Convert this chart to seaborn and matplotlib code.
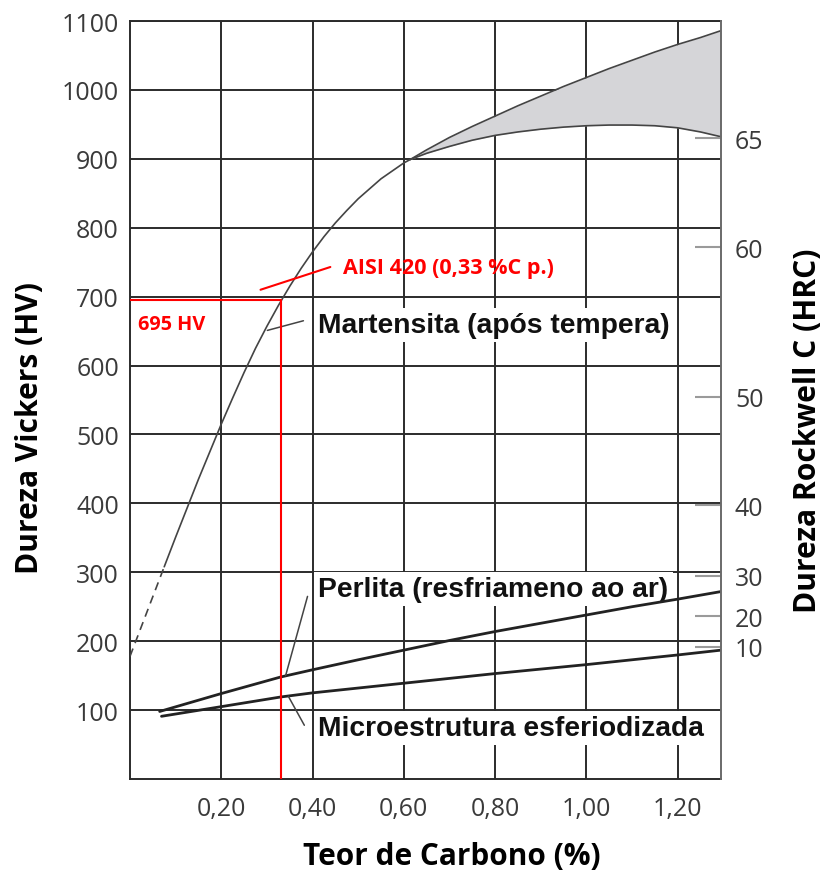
import matplotlib
matplotlib.use("Agg")
import matplotlib.pyplot as plt
import seaborn as sns
import pandas as pd

# ---------------- data ----------------
mart_dash_c = [0.0, 0.075]
mart_dash_hv = [178, 308]

mart_c = [0.075, 0.10, 0.125, 0.15, 0.175, 0.20, 0.225, 0.25, 0.275, 0.30, 0.325, 0.35,
          0.375, 0.40, 0.425, 0.45, 0.475, 0.50, 0.55, 0.60, 0.614]
mart_hv = [308, 351, 393, 435, 475, 515, 553, 590, 625, 657, 687, 715,
           741, 765, 787, 807, 825, 842, 871, 894, 899]

band_c = [0.614, 0.65, 0.70, 0.75, 0.80, 0.85, 0.90, 0.95, 1.00, 1.05, 1.10, 1.15, 1.20, 1.25, 1.295]
band_upper_hv = [899, 913, 931, 947, 962, 977, 991, 1005, 1018, 1031, 1043, 1055, 1066, 1076, 1086]
band_lower_hv = [899, 908, 918, 927, 934, 939, 943, 946, 948, 949, 949, 948, 945, 939, 932]

perl_c = [0.065, 0.20, 0.33, 0.40, 0.50, 0.60, 0.70, 0.80, 0.90, 1.00, 1.10, 1.20, 1.295]
perl_hv = [98, 124, 148, 158.5, 173, 187, 201, 214, 226, 238, 250, 261, 272]

sph_c = [0.069, 0.20, 0.33, 0.40, 0.60, 0.80, 1.00, 1.20, 1.295]
sph_hv = [91, 105, 119, 125, 139, 153, 166, 180, 187]

x_ticks = [0.2, 0.4, 0.6, 0.8, 1.0, 1.2]
x_tick_labels = ["0,20", "0,40", "0,60", "0,80", "1,00", "1,20"]
y_ticks = [100, 200, 300, 400, 500, 600, 700, 800, 900, 1000, 1100]

hrc_labels = ["65", "60", "50", "40", "30", "20", "10"]
hrc_at_hv = [930, 772, 555, 397, 295, 236, 192]

aisi_c = 0.33
aisi_hv = 695

# leader lines (annotation)
lead_mart_c, lead_mart_hv = [0.301, 0.380], [651, 665]
lead_aisi_c, lead_aisi_hv = [0.286, 0.439], [710, 743]
lead_perl_c, lead_perl_hv = [0.341, 0.389], [150, 265]
lead_sph_c, lead_sph_hv = [0.347, 0.382], [120, 78]

# ---------------- style ----------------
sns.set_theme(style="white")
plt.rcParams["font.family"] = ["Open Sans", "DejaVu Sans"]

fig = plt.figure(figsize=(8.22, 8.78), dpi=100)
ax = fig.add_axes([130 / 822, (878 - 780) / 878, (721 - 130) / 822, (780 - 22) / 878])

ink = "#2b2b2b"

df_m = pd.DataFrame({"c": mart_c, "hv": mart_hv})
df_md = pd.DataFrame({"c": mart_dash_c, "hv": mart_dash_hv})
df_up = pd.DataFrame({"c": band_c, "hv": band_upper_hv})
df_lo = pd.DataFrame({"c": band_c, "hv": band_lower_hv})
df_p = pd.DataFrame({"c": perl_c, "hv": perl_hv})
df_s = pd.DataFrame({"c": sph_c, "hv": sph_hv})

ax.fill_between(band_c, band_lower_hv, band_upper_hv, color="#d5d5d8", zorder=1.5, lw=0)
sns.lineplot(data=df_md, x="c", y="hv", ax=ax, color="#444444", lw=1.2,
             linestyle=(0, (5, 3.5)), sort=False, estimator=None, zorder=4)
for d in (df_m, df_up, df_lo):
    sns.lineplot(data=d, x="c", y="hv", ax=ax, color="#444444", lw=1.2, sort=False, estimator=None, zorder=4)
for d in (df_p, df_s):
    sns.lineplot(data=d, x="c", y="hv", ax=ax, color="#222222", lw=2.0, sort=False, estimator=None, zorder=4)

for lc, lh in [(lead_mart_c, lead_mart_hv), (lead_perl_c, lead_perl_hv), (lead_sph_c, lead_sph_hv)]:
    ax.plot(lc, lh, color="#444444", lw=1.1, zorder=4)

# red AISI 420 markers
red = "#ff0000"
ax.plot([0, aisi_c], [aisi_hv, aisi_hv], color=red, lw=1.5, zorder=5)
ax.plot([aisi_c, aisi_c], [0, aisi_hv], color=red, lw=1.5, zorder=5)
ax.plot(lead_aisi_c, lead_aisi_hv, color=red, lw=1.5, zorder=5)
ax.text(0.017, 660, "695 HV", color=red, fontsize=14.3, fontweight="bold", va="center", ha="left", zorder=6)
ax.text(0.466, 743, "AISI 420 (0,33 %C p.)", color=red, fontsize=15.5, fontweight="bold",
        va="center", ha="left", zorder=6)

lab_kw = dict(fontsize=20.3, fontweight="bold", family=["Liberation Sans", "DejaVu Sans"], color="#111111",
              va="center", ha="left", zorder=3.5,
              bbox=dict(facecolor="white", edgecolor="none", pad=3))
ax.text(0.413, 659, "Martensita (após tempera)", **lab_kw)
ax.text(0.413, 276, "Perlita (resfriameno ao ar)", **lab_kw)
ax.text(0.413, 74, "Microestrutura esferiodizada", **lab_kw)

ax.set_xlim(0, 1.295)
ax.set_ylim(0, 1100)
ax.set_xticks(x_ticks)
ax.set_xticklabels(x_tick_labels)
ax.set_yticks(y_ticks)
ax.set_yticklabels([str(v) for v in y_ticks])
ax.grid(True, color=ink, lw=1.4)
ax.set_axisbelow(True)
ax.tick_params(axis="both", length=0, labelsize=18, labelcolor="#3a3a3a")
ax.tick_params(axis="y", pad=8)
ax.tick_params(axis="x", pad=12)
for s in ["left", "bottom", "top"]:
    ax.spines[s].set_visible(True)
    ax.spines[s].set_color(ink)
    ax.spines[s].set_linewidth(1.4)
ax.spines["right"].set_visible(False)
ax.set_xlabel("")
ax.set_ylabel("")

ax2 = ax.twinx()
ax2.set_ylim(0, 1100)
ax2.set_yticks(hrc_at_hv)
ax2.set_yticklabels(hrc_labels)
ax2.tick_params(axis="y", direction="in", length=19, width=1.5, color="#9a9a9a",
                labelsize=18, labelcolor="#3a3a3a", pad=10)
for s in ["left", "bottom", "top"]:
    ax2.spines[s].set_visible(False)
ax2.spines["right"].set_visible(True)
ax2.spines["right"].set_color("#6a6a6a")
ax2.spines["right"].set_linewidth(1.4)
ax2.grid(False)
ax2.set_ylabel("")

fig.text(30 / 822, 1 - 428 / 878, "Dureza Vickers (HV)", rotation=90, fontsize=21.6, fontweight="bold",
         color="#000000", ha="center", va="center")
fig.text(808 / 822, 1 - 431 / 878, "Dureza Rockwell C (HRC)", rotation=90, fontsize=21.6, fontweight="bold",
         color="#000000", ha="center", va="center")
fig.text(452 / 822, 1 - 857 / 878, "Teor de Carbono (%)", fontsize=21.4, fontweight="bold",
         color="#000000", ha="center", va="center")

fig.savefig("out.png", dpi=100)
